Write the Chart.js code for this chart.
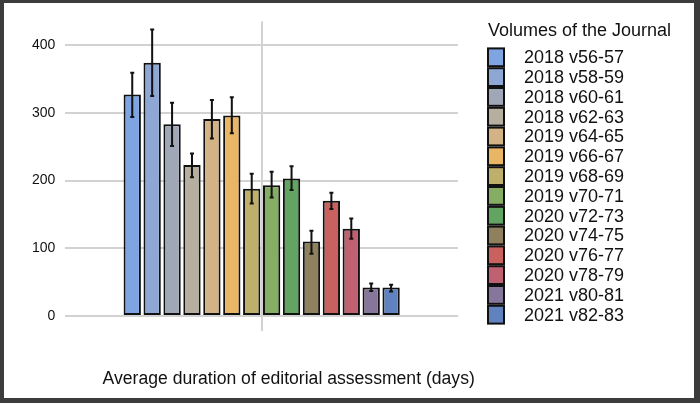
<!DOCTYPE html>
<html>
<head>
<meta charset="utf-8">
<script src="https://cdn.jsdelivr.net/npm/chart.js@4"></script>
<style>
    html, body { margin: 0; padding: 0; background: #fff; }
    #frame {
        width: 700px;
        height: 403px;
        box-sizing: border-box;
        border-style: solid;
        border-color: #3c3c3c;
        border-width: 3px 6px 5px 4px;
        background: #fff;
    }
    canvas { display: block; }
</style>
</head>
<body>
<div id="frame"><canvas id="durationChart" width="690" height="395"></canvas></div>
<script>
// Volúmenes de la revista (una serie por volumen)
const volumes = [
    '2018 v56-57', '2018 v58-59', '2018 v60-61', '2018 v62-63',
    '2019 v64-65', '2019 v66-67', '2019 v68-69', '2019 v70-71',
    '2020 v72-73', '2020 v74-75', '2020 v76-77', '2020 v78-79',
    '2021 v80-81', '2021 v82-83'
];
// Duración media (días)
const meanDays = [327, 374, 283, 223, 291, 296, 188, 193, 203, 110, 170, 129, 42, 42];
// Extremos de las barras de error
const errLow  = [294, 325, 251, 205, 262, 270, 166, 175, 186, 92, 158, 114, 37, 36];
const errHigh = [359, 423, 315, 240, 319, 323, 210, 213, 221, 126, 182, 144, 48, 46];
const barColors = [
    '#7ea5e2', '#8fa7d5', '#a0a8b8', '#b6ae9e', '#d3b385', '#e9b666', '#beb06a',
    '#85ad63', '#62a563', '#8f805e', '#c9625f', '#bf6171', '#86769b', '#6083bf'
];
const yTicks = [0, 100, 200, 300, 400];
const xTitle = 'Average duration of editorial assessment (days)';
const legendTitle = 'Volumes of the Journal';
const fontFamily = '"Liberation Sans", Arial, sans-serif';

// Plugin para dibujar las barras de error
const errorBars = {
    id: 'errorBars',
    afterDatasetsDraw(chart) {
        const ctx = chart.ctx;
        const y = chart.scales.y;
        ctx.save();
        ctx.strokeStyle = '#111';
        ctx.lineWidth = 2;
        chart.data.datasets.forEach((ds, i) => {
            const bar = chart.getDatasetMeta(i).data[0];
            const top = y.getPixelForValue(errHigh[i]);
            const bot = y.getPixelForValue(errLow[i]);
            ctx.beginPath();
            ctx.moveTo(bar.x, top); ctx.lineTo(bar.x, bot);
            ctx.moveTo(bar.x - 2, top); ctx.lineTo(bar.x + 2, top);
            ctx.moveTo(bar.x - 2, bot); ctx.lineTo(bar.x + 2, bot);
            ctx.stroke();
        });
        ctx.restore();
    }
};

// Título del eje X y leyenda con título (dibujados a mano)
const textosPlugin = {
    id: 'textosPlugin',
    afterDraw(chart) {
        const ctx = chart.ctx;
        const area = chart.chartArea;
        ctx.save();
        ctx.fillStyle = '#111';
        ctx.textBaseline = 'middle';

        ctx.font = '17.6px ' + fontFamily;
        ctx.textAlign = 'center';
        ctx.fillText(xTitle, (area.left + area.right) / 2 + 27, area.bottom + 63);

        // leyenda
        const x0 = area.right + 29;
        const y0 = area.top + 26;
        const paso = 19.8;
        ctx.font = '18px ' + fontFamily;
        ctx.textAlign = 'left';
        ctx.fillText(legendTitle, x0 + 1, area.top + 10);
        chart.data.datasets.forEach((ds, i) => {
            const y = y0 + i * paso;
            ctx.fillStyle = ds.backgroundColor;
            ctx.fillRect(x0 + 1, y + 1, 16, paso - 2);
            ctx.strokeStyle = '#111';
            ctx.lineWidth = 2;
            ctx.strokeRect(x0 + 1, y + 1, 16, paso - 2);
            ctx.fillStyle = '#111';
            ctx.fillText(ds.label, x0 + 37, y + paso / 2 + 1);
        });
        ctx.restore();
    }
};

function crearGrafico() {
    const ctx = document.getElementById('durationChart').getContext('2d');
    new Chart(ctx, {
        type: 'bar',
        data: {
            labels: [''],
            datasets: volumes.map((name, i) => ({
                label: name,
                data: [meanDays[i]],
                backgroundColor: barColors[i],
                borderColor: '#111',
                borderWidth: 2,
                borderSkipped: false,
                categoryPercentage: 0.71,
                barPercentage: 0.87
            }))
        },
        options: {
            responsive: false,
            animation: false,
            devicePixelRatio: 1,
            layout: { padding: { left: 18, top: 14, right: 236, bottom: 67 } },
            plugins: {
                legend: { display: false },
                tooltip: { enabled: false }
            },
            scales: {
                x: {
                    grid: { offset: false, color: '#d2d2d2', lineWidth: 2, tickLength: 15 },
                    border: { display: false },
                    ticks: { display: false }
                },
                y: {
                    min: 0,
                    max: 435,
                    afterBuildTicks: axis => { axis.ticks = yTicks.map(v => ({ value: v })); },
                    grid: { color: '#d2d2d2', lineWidth: 2, drawTicks: false },
                    border: { display: false },
                    ticks: {
                        color: '#111',
                        padding: 10,
                        font: { family: fontFamily, size: 14 }
                    }
                }
            }
        },
        plugins: [errorBars, textosPlugin]
    });
}

document.addEventListener('DOMContentLoaded', () => {
    crearGrafico();
});
</script>
</body>
</html>
